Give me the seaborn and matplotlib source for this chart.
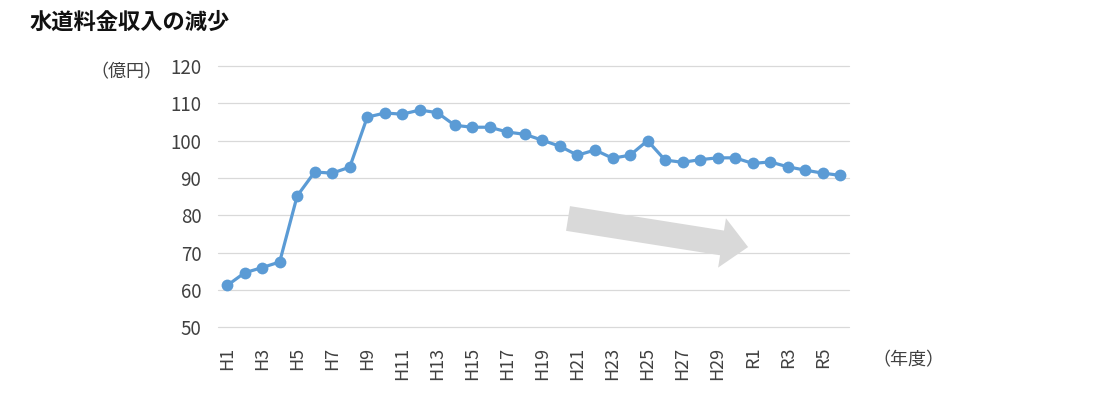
import matplotlib
matplotlib.use("Agg")
import matplotlib.pyplot as plt
import seaborn as sns
import pandas as pd
from matplotlib.patches import FancyArrowPatch

years = [f"H{i}" for i in range(1, 31)] + [f"R{i}" for i in range(1, 7)]
revenue = [61.2, 64.6, 66.0, 67.5, 85.2, 91.6, 91.3, 92.9, 106.3, 107.4,
           107.1, 108.2, 107.5, 104.1, 103.6, 103.6, 102.3, 101.7, 100.1, 98.5,
           96.1, 97.5, 95.3, 96.1, 100.0, 94.8, 94.2, 94.9, 95.4, 95.4,
           93.9, 94.3, 93.0, 92.1, 91.3, 90.7]
yticks = [50, 60, 70, 80, 90, 100, 110, 120]
title = "水道料金収入の減少"
ylabel = "（億円）"
xlabel = "（年度）"

sns.set_theme(style="white")
plt.rcParams['font.family'] = ['Noto Sans CJK JP', 'DejaVu Sans']

df = pd.DataFrame({"year": years, "value": revenue, "pos": range(len(years))})

fig = plt.figure(figsize=(10.97, 3.98), dpi=100)
ax = fig.add_axes([218/1097, 1-327.3/398, (849-218)/1097, (327.3-66)/398])

for y in yticks:
    ax.axhline(y, color="#D9D9D9", lw=0.9, zorder=0, clip_on=False)

sns.lineplot(data=df, x="pos", y="value", ax=ax, color="#5B9BD5", lw=2.3,
             marker="o", markersize=8.5, markeredgewidth=0, zorder=3)

ax.set_xlim(-0.52, 35.5)
ax.set_ylim(50, 120)
ax.set_yticks(yticks)
ax.set_yticklabels([str(v) for v in yticks])
tick_pos = list(range(0, len(years), 2))
ax.set_xticks(tick_pos)
ax.set_xticklabels([years[i] for i in tick_pos], rotation=90, va="top", ha="center")
ax.tick_params(axis="y", length=0, pad=12, labelsize=13.5, labelcolor="#404040")
ax.tick_params(axis="x", length=0, pad=14, labelsize=13, labelcolor="#404040")
ax.set_xlabel("")
ax.set_ylabel("")
for s in ax.spines.values():
    s.set_visible(False)

arrow = FancyArrowPatch((19.46, 79.15), (29.74, 71.5),
                        arrowstyle="simple,tail_width=18,head_width=36,head_length=19",
                        mutation_scale=1, color="#D9D9D9", lw=0,
                        shrinkA=0, shrinkB=0, zorder=2)
ax.add_patch(arrow)

fig.text(30/1097, 1-22/398, title, fontsize=16, fontweight="bold",
         color="#111111", ha="left", va="center")
fig.text(90/1097, 1-72/398, ylabel, fontsize=13, color="#404040",
         ha="left", va="center")
fig.text(872/1097, 1-360/398, xlabel, fontsize=13, color="#404040",
         ha="left", va="center")

fig.savefig("out.png", dpi=100)
